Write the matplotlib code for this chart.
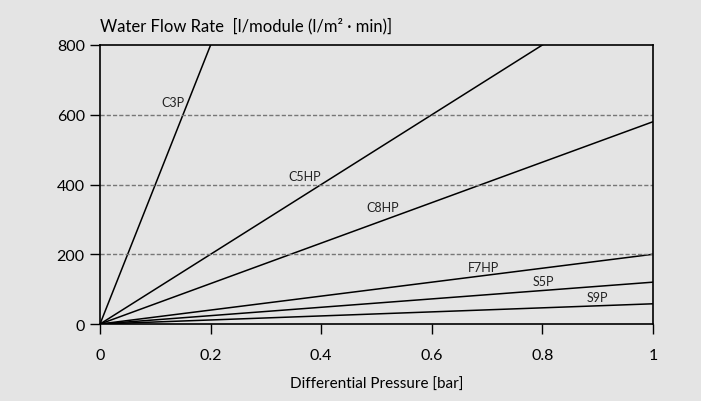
import numpy as np
import matplotlib
matplotlib.use('Agg')
import matplotlib.pyplot as plt

# membrane types and their flow rate at 1 bar (l/module)
series = ['C3P', 'C5HP', 'C8HP', 'F7HP', 'S5P', 'S9P']
flow_at_1bar = [4000, 1000, 580, 200, 120, 58]
label_x = [0.132, 0.371, 0.512, 0.693, 0.801, 0.900]
label_y = [636, 424, 335, 163, 123, 77]

x_ticks = [0, 0.2, 0.4, 0.6, 0.8, 1]
x_ticklabels = ['0', '0.2', '0.4', '0.6', '0.8', '1']
y_ticks = [0, 200, 400, 600, 800]

bg = '#e4e4e4'
plt.rcParams['font.family'] = ['Lato', 'DejaVu Sans']

fig = plt.figure(figsize=(7.01, 4.02), dpi=100, facecolor=bg)
ax = fig.add_axes([0.1427, 0.1915, 0.7888, 0.6941], facecolor=bg)

x = np.array([0.0, 1.0])
for name, slope in zip(series, flow_at_1bar):
    ax.plot(x, slope * x, color='black', lw=1.1)

for name, lx, ly in zip(series, label_x, label_y):
    ax.text(lx, ly, name, fontsize=9, ha='center', va='center', color='#222222')

for yv in [200, 400, 600]:
    ax.axhline(yv, color='#777777', lw=1, ls=(0, (3, 1.5)))

ax.set_xlim(0, 1)
ax.set_ylim(0, 800)
ax.set_xticks(x_ticks)
ax.set_xticklabels(x_ticklabels)
ax.set_yticks(y_ticks)
ax.tick_params(direction='out', length=7, width=1, labelsize=11.5, colors='black')
ax.tick_params(axis='x', pad=10)
ax.tick_params(axis='y', pad=4)
for s in ax.spines.values():
    s.set_linewidth(1.2)

ax.set_xlabel('Differential Pressure [bar]', fontsize=11, labelpad=11)
ax.text(0, 1.04, 'Water Flow Rate  [l/module (l/m² · min)]', transform=ax.transAxes,
        fontsize=12, ha='left', va='bottom')

fig.savefig('out.png', dpi=100, facecolor=bg)
